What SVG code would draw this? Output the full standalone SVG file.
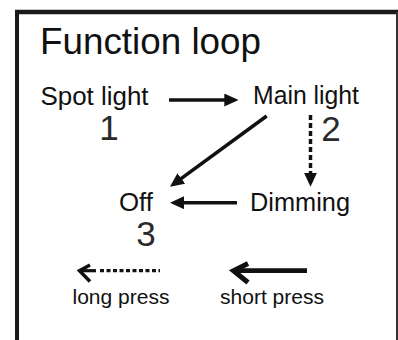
<svg xmlns="http://www.w3.org/2000/svg" width="398" height="340" viewBox="0 0 398 340">
  <style>
    .t { font-family: "Liberation Sans", Arial, Helvetica, sans-serif; fill: #111; }
    .num { font-family: "Liberation Sans", Arial, sans-serif; fill: #2a2a2a; }
    .ln { stroke: #111; fill: none; }
  </style>
  <defs>
    <marker id="tri" viewBox="0 0 14 13" refX="10" refY="6.5" markerWidth="14" markerHeight="13" markerUnits="userSpaceOnUse" orient="auto">
      <path d="M0,0 L14,6.5 L0,13 z" fill="#111"/>
    </marker>
  </defs>
  <rect width="398" height="340" fill="#fff"/>
  <g id="frame">
    <line x1="17" y1="10" x2="17" y2="340" stroke="#1a1a1a" stroke-width="4"/>
    <line x1="15" y1="12" x2="398" y2="12" stroke="#1a1a1a" stroke-width="4.5"/>
    <line x1="397" y1="12" x2="397" y2="340" stroke="#333" stroke-width="2"/>
  </g>
  <g id="title">
    <text class="t" x="40" y="53.5" font-size="37" textLength="221" lengthAdjust="spacingAndGlyphs">Function loop</text>
  </g>
  <g id="spot-light">
    <text class="t" x="40.5" y="104.5" font-size="25" textLength="108" lengthAdjust="spacingAndGlyphs">Spot light</text>
    <text class="num" x="109" y="140" font-size="35" text-anchor="middle">1</text>
  </g>
  <g id="main-light">
    <text class="t" x="253" y="103.5" font-size="25" textLength="106" lengthAdjust="spacingAndGlyphs">Main light</text>
    <text class="num" x="331" y="141" font-size="35" text-anchor="middle">2</text>
  </g>
  <g id="off">
    <text class="t" x="119" y="210.5" font-size="25" textLength="34" lengthAdjust="spacingAndGlyphs">Off</text>
    <text class="num" x="146" y="246" font-size="35" text-anchor="middle">3</text>
  </g>
  <g id="dimming">
    <text class="t" x="250" y="210.5" font-size="25" textLength="100" lengthAdjust="spacingAndGlyphs">Dimming</text>
  </g>
  <g id="connectors">
    <line class="ln" x1="169" y1="100" x2="234.3" y2="100" stroke-width="3.5" marker-end="url(#tri)"/>
    <line class="ln" x1="266.7" y1="116" x2="173.2" y2="184.3" stroke-width="3.5" marker-end="url(#tri)"/>
    <line class="ln" x1="310.5" y1="115" x2="310.5" y2="182.7" stroke-width="3.5" stroke-dasharray="5,3" marker-end="url(#tri)"/>
    <line class="ln" x1="237" y1="202.7" x2="174" y2="202.7" stroke-width="3.5" marker-end="url(#tri)"/>
  </g>
  <g id="legend-long">
    <polyline class="ln" points="90,265 79.5,270.7 90,281.5" stroke-width="3.5"/>
    <line class="ln" x1="80" y1="270.7" x2="96" y2="270.7" stroke-width="3.2"/>
    <line class="ln" x1="100" y1="270.7" x2="160" y2="270.7" stroke-width="3.2" stroke-dasharray="4,2.5"/>
    <text class="t" x="72.5" y="303.5" font-size="20" textLength="97" lengthAdjust="spacingAndGlyphs">long press</text>
  </g>
  <g id="legend-short">
    <polyline class="ln" points="248,263.5 233.5,270.7 248,282.5" stroke-width="5"/>
    <line class="ln" x1="234" y1="270.7" x2="307" y2="270.7" stroke-width="4.8"/>
    <text class="t" x="220" y="303.5" font-size="20" textLength="104" lengthAdjust="spacingAndGlyphs">short press</text>
  </g>
</svg>
